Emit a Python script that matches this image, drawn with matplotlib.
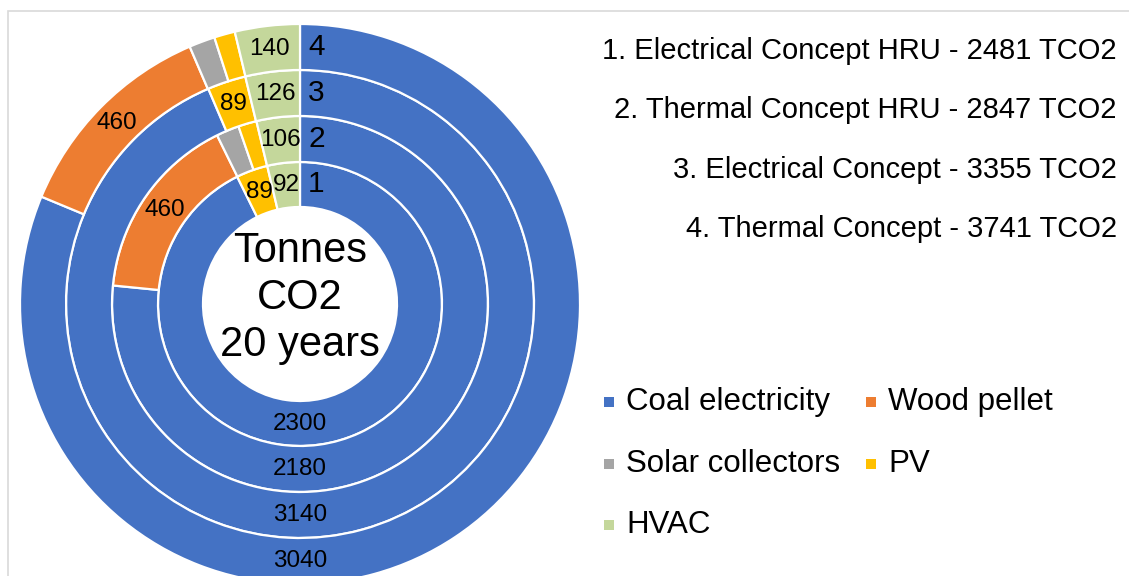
import matplotlib
matplotlib.use("Agg")
import matplotlib.pyplot as plt
from matplotlib.patches import Rectangle
import numpy as np

plt.rcParams['font.family'] = ['Liberation Sans', 'DejaVu Sans']

# ---------------- data ----------------
categories = ['Coal electricity', 'Wood pellet', 'Solar collectors', 'PV', 'HVAC']
ring_names = ['1', '2', '3', '4']
concepts = ['1. Electrical Concept HRU - 2481 TCO2',
            '2. Thermal Concept HRU - 2847 TCO2',
            '3. Electrical Concept - 3355 TCO2',
            '4. Thermal Concept - 3741 TCO2']
coal = [2300, 2180, 3140, 3040]
wood = [0, 460, 0, 460]
solar = [0, 56, 0, 56]
pv = [89, 45, 89, 45]
hvac = [92, 106, 126, 140]
colors = ['#4472C4', '#ED7D31', '#A5A5A5', '#FFC000', '#C4D79B']
center_text = 'Tonnes\nCO2\n20 years'

W, H = 1129, 576
fig = plt.figure(figsize=(W / 100, H / 100), dpi=100)

def fx(px):
    return px / W

def fy(py):
    return 1 - py / H

# frame (chart-area border)
fig.patches.append(Rectangle((fx(8), fy(H + 20)), fx(W + 20), (H + 9) / H,
                             transform=fig.transFigure, fill=False,
                             edgecolor='#D9D9D9', linewidth=1.2))

# pie axes: center (300, 304) px, radius 280 px
cx, cy, R = 300, 304, 280
ax = fig.add_axes([fx(cx - R), fy(cy + R), 2 * R / W, 2 * R / H])

outer = [142, 188, 234, 280]
inner = [97, 142, 188, 234]

series = [coal, wood, solar, pv, hvac]
for i in range(4):
    vals = [s[i] for s in series]
    keep = [j for j, v in enumerate(vals) if v > 0]
    v = [vals[j] for j in keep]
    c = [colors[j] for j in keep]
    ro = outer[i] / R
    w = (outer[i] - inner[i]) / R
    ax.pie(v, colors=c, radius=ro, startangle=90, counterclock=False,
           wedgeprops=dict(width=w, edgecolor='white', linewidth=1.6),
           normalize=True)
    rmid = (outer[i] + inner[i]) / 2 / R
    total = sum(v)
    cum = 0
    for j in keep:
        val = vals[j]
        mid = (cum + val / 2) / total * 360
        cum += val
        ang = 180.0 if j == 0 else mid
        if val < 80:
            continue
        x = rmid * np.sin(np.radians(ang))
        y = rmid * np.cos(np.radians(ang))
        ax.text(x, y, str(val), ha='center', va='center', fontsize=17.5, color='black')
    ax.text(8 / R, rmid, ring_names[i], ha='left', va='center', fontsize=21.5, color='black')

ax.text(0, 6 / R, center_text, ha='center', va='center', fontsize=30,
        linespacing=1.22, color='black')

ax.set_xlim(-1, 1)
ax.set_ylim(-1, 1)
ax.set_aspect('auto')
ax.set_position([fx(cx - R), fy(cy + R), 2 * R / W, 2 * R / H])
ax.axis('off')

# concept descriptions (right, top)
for k, t in enumerate(concepts):
    fig.text(fx(1117), fy(51 + k * 59.3), t, ha='right', va='center', fontsize=21)

# category legend
leg_pos = [(604, 402), (866, 402), (604, 464), (866, 464), (604, 525)]
for (px, py), name, col in zip(leg_pos, categories, colors):
    fig.patches.append(Rectangle((fx(px), fy(py + 5)), fx(10), 10 / H,
                                 transform=fig.transFigure, facecolor=col, edgecolor='none'))
    fig.text(fx(px + 22), fy(py), name, ha='left', va='center', fontsize=22.5)

fig.savefig('out.png', dpi=100)
